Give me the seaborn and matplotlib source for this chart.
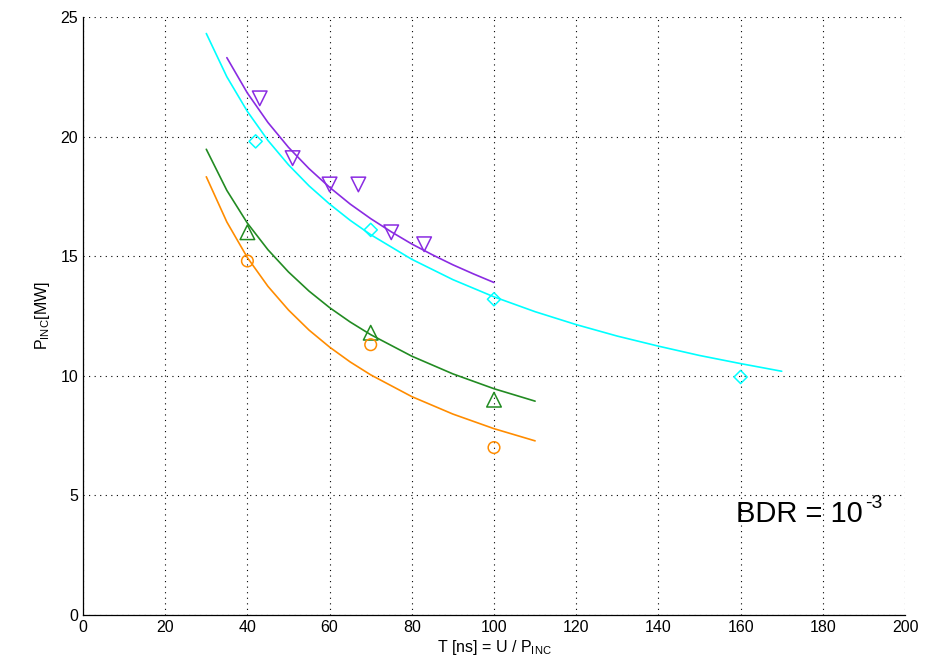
import numpy as np
import pandas as pd
import matplotlib
matplotlib.use("Agg")
import matplotlib.pyplot as plt
import seaborn as sns

# ---- measured data (markers) ----
purple_x = [43, 51, 60, 67, 75, 83]
purple_y = [21.6, 19.1, 18.0, 18.0, 16.0, 15.5]
cyan_x = [42, 70, 100, 160]
cyan_y = [19.8, 16.1, 13.2, 9.95]
green_x = [40, 70, 100]
green_y = [16.0, 11.8, 9.0]
orange_x = [40, 70, 100]
orange_y = [14.8, 11.3, 7.0]

# ---- fitted curves ----
purple_cx = [35, 40, 45, 50, 55, 60, 65, 70, 75, 80, 85, 90, 95, 100]
purple_cy = [23.30, 21.82, 20.59, 19.55, 18.66, 17.88, 17.18, 16.57, 16.02, 15.51, 15.06, 14.64, 14.26, 13.90]
cyan_cx = [30, 35, 40, 45, 50, 55, 60, 65, 70, 80, 90, 100, 110, 120, 130, 140, 150, 160, 170]
cyan_cy = [24.31, 22.50, 21.05, 19.84, 18.82, 17.94, 17.18, 16.50, 15.90, 14.87, 14.02, 13.30, 12.68, 12.14, 11.66, 11.24, 10.85, 10.51, 10.19]
green_cx = [30, 35, 40, 45, 50, 55, 60, 65, 70, 80, 90, 100, 110]
green_cy = [19.47, 17.75, 16.38, 15.27, 14.34, 13.54, 12.85, 12.25, 11.72, 10.82, 10.08, 9.46, 8.94]
orange_cx = [30, 35, 40, 45, 50, 55, 60, 65, 70, 80, 90, 100, 110]
orange_cy = [18.32, 16.43, 14.94, 13.74, 12.75, 11.91, 11.20, 10.58, 10.04, 9.13, 8.40, 7.79, 7.28]

x_ticks = [0, 20, 40, 60, 80, 100, 120, 140, 160, 180, 200]
y_ticks = [0, 5, 10, 15, 20, 25]

c_purple = "#8a2be2"
c_cyan = "#00ffff"
c_green = "#228b22"
c_orange = "#ff8c00"

sns.set_style("white")
plt.rcParams["font.family"] = ["Liberation Sans", "DejaVu Sans"]
plt.rcParams["axes.unicode_minus"] = False
plt.rcParams["text.color"] = "black"
plt.rcParams["axes.labelcolor"] = "black"

fig = plt.figure(figsize=(9.27, 6.65), dpi=100)
ax = fig.add_axes([83 / 927, 50 / 665, 822 / 927, 598 / 665])

series = [
    (purple_cx, purple_cy, purple_x, purple_y, c_purple, "v", 110),
    (cyan_cx, cyan_cy, cyan_x, cyan_y, c_cyan, "D", 45),
    (green_cx, green_cy, green_x, green_y, c_green, "^", 110),
    (orange_cx, orange_cy, orange_x, orange_y, c_orange, "o", 70),
]
for cx, cy, mx, my, col, mk, sz in series:
    sns.lineplot(x=cx, y=cy, ax=ax, color=col, lw=1.2, sort=False)
    sns.scatterplot(x=mx, y=my, ax=ax, marker=mk, s=sz, facecolors="none",
                    edgecolors=col, linewidth=1.1, zorder=3)

ax.set_xlim(0, 200)
ax.set_ylim(0, 25)
ax.set_xticks(x_ticks)
ax.set_yticks(y_ticks)
ax.set_xticklabels([str(t) for t in x_ticks], fontstretch="condensed")
ax.tick_params(direction="in", length=5, width=0.8, labelsize=11.5, colors="black")
ax.grid(True, linestyle=(0, (1, 4)), color="black", linewidth=0.8)
for s in ["top", "right"]:
    ax.spines[s].set_visible(False)
for s in ["left", "bottom"]:
    ax.spines[s].set_color("black")
    ax.spines[s].set_linewidth(0.9)

ax.set_xlabel(r"T [ns] = U / P$_{\mathregular{INC}}$", fontsize=11.5, labelpad=2)
ax.set_ylabel(r"P$_{\mathregular{INC}}$[MW]", fontsize=11.5, labelpad=6)

bdr = ax.text(159, 3.9, "BDR = 10", fontsize=21, ha="left",
              va="baseline", color="black")
ax.annotate("-3", xy=(1.0, 0.55), xycoords=bdr, xytext=(1, 0),
            textcoords="offset points", fontsize=14, ha="left", va="bottom",
            color="black")

fig.savefig("out.png", dpi=100)
